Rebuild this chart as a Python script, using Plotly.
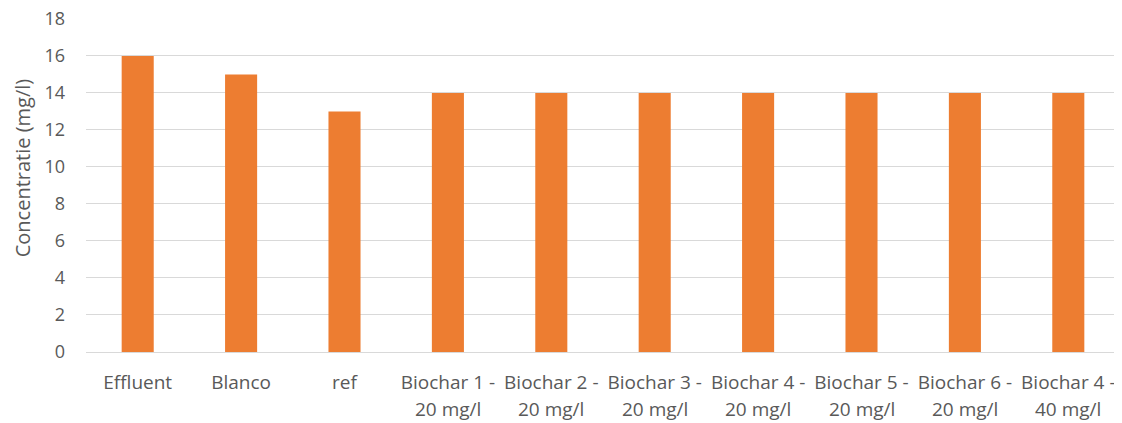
import plotly.graph_objects as go

categories = ["Effluent", "Blanco", "ref", "Biochar 1", "Biochar 2", "Biochar 3",
              "Biochar 4", "Biochar 5", "Biochar 6", "Biochar 4b"]
line1 = ["Effluent", "Blanco", "ref", "Biochar 1 -", "Biochar 2 -", "Biochar 3 -",
         "Biochar 4 -", "Biochar 5 -", "Biochar 6 -", "Biochar 4 -"]
line2 = ["", "", "", "20 mg/l", "20 mg/l", "20 mg/l", "20 mg/l", "20 mg/l", "20 mg/l", "40 mg/l"]
values = [16, 15, 13, 14, 14, 14, 14, 14, 14, 14]
y_ticks = [0, 2, 4, 6, 8, 10, 12, 14, 16, 18]

FONT = "Open Sans, Liberation Sans, sans-serif"
GREY = "#595959"

fig = go.Figure(go.Bar(x=categories, y=values, marker=dict(color="#ED7D31", line=dict(width=0)),
                       width=0.31, cliponaxis=False))

for c, t in zip(categories, line2):
    if t:
        fig.add_annotation(x=c, y=0, xref="x", yref="y", text=t, showarrow=False,
                           yanchor="middle", yshift=-57, borderpad=0,
                           font=dict(size=19, color=GREY, family=FONT))

fig.add_annotation(x=0, y=0.55, xref="paper", yref="paper", xshift=-64,
                   text="Concentratie (mg/l)", textangle=-90, showarrow=False,
                   xanchor="center", yanchor="middle",
                   font=dict(size=20, color=GREY, family=FONT))

fig.update_layout(
    width=1114, height=415,
    margin=dict(l=78, r=2, t=10, b=71),
    plot_bgcolor="white", paper_bgcolor="white",
    font=dict(family=FONT, color=GREY, size=19),
    showlegend=False,
)
fig.update_xaxes(showgrid=False, showline=True, linecolor="#d9d9d9", linewidth=1,
                 ticks="", tickvals=categories, ticktext=line1, tickfont=dict(size=19),
                 automargin=False, ticklabelstandoff=13, ticklabeloverflow="allow")
fig.update_yaxes(range=[0, 18.05], tickvals=y_ticks, showgrid=True, gridcolor="#d9d9d9",
                 gridwidth=1, zeroline=False, ticks="", tickfont=dict(size=18),
                 automargin=False, ticklabelstandoff=20, ticklabeloverflow="allow")

fig.write_html("out.html")
